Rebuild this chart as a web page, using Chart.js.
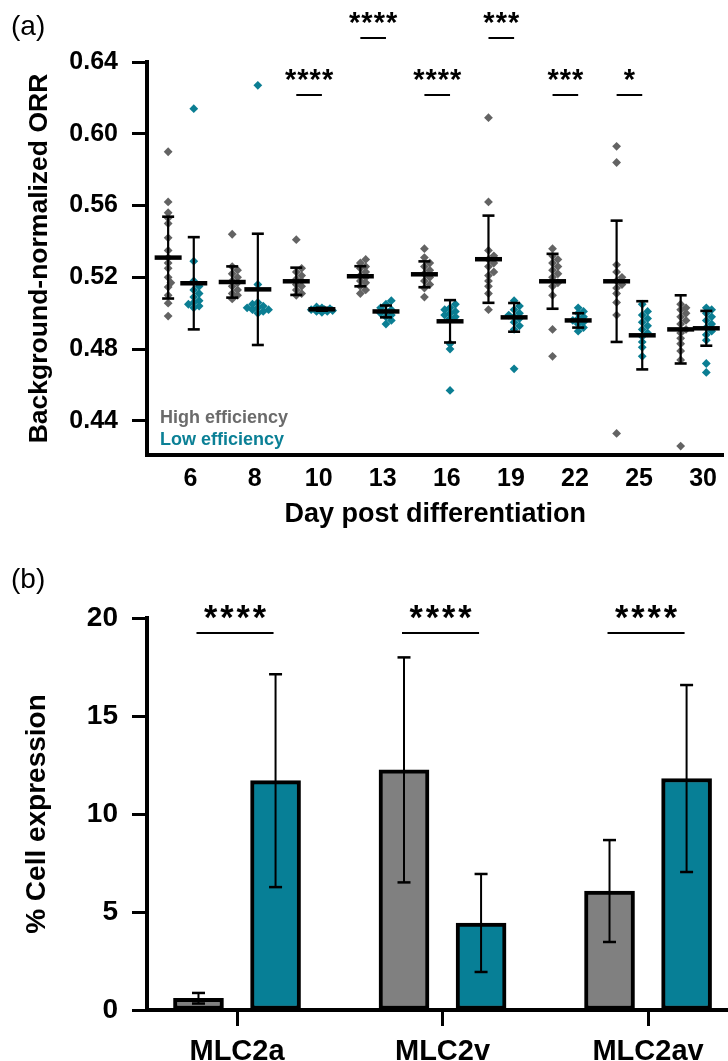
<!DOCTYPE html>
<html>
<head>
<meta charset="utf-8">
<script src="https://cdn.jsdelivr.net/npm/chart.js@4.4.1/dist/chart.umd.min.js"></script>
<style>
  html, body { margin: 0; padding: 0; background: #fff; }
  #wrap { position: relative; width: 728px; height: 1061px; overflow: hidden; }
  canvas { position: absolute; left: 0; }
  #orr { top: 0; }
  #expr { top: 540px; }
</style>
</head>
<body>
<div id="wrap">
  <canvas id="orr" width="728" height="540"></canvas>
  <canvas id="expr" width="728" height="521"></canvas>
</div>
<script>
// ---------- Panel (a): optical redox ratio per day ----------
const days = ['6', '8', '10', '13', '16', '19', '22', '25', '30'];
const orrTicks = [0.44, 0.48, 0.52, 0.56, 0.60, 0.64];

const highOrr = [
  [0.590, 0.562, 0.556, 0.553, 0.550, 0.542, 0.535, 0.531, 0.528, 0.525, 0.520, 0.517, 0.5146, 0.510, 0.5056, 0.4984],
  [0.544, 0.526, 0.524, 0.522, 0.520, 0.518, 0.517, 0.515, 0.513, 0.511, 0.510, 0.508],
  [0.541, 0.525, 0.523, 0.521, 0.519, 0.518, 0.516, 0.515, 0.513, 0.511, 0.510],
  [0.530, 0.528, 0.526, 0.525, 0.523, 0.521, 0.520, 0.518, 0.517, 0.515, 0.513, 0.511],
  [0.536, 0.531, 0.528, 0.526, 0.524, 0.522, 0.520, 0.518, 0.516, 0.514, 0.509],
  [0.609, 0.562, 0.535, 0.532, 0.530, 0.528, 0.526, 0.523, 0.521, 0.518, 0.515, 0.511, 0.502],
  [0.536, 0.532, 0.530, 0.528, 0.526, 0.524, 0.522, 0.520, 0.517, 0.515, 0.510, 0.491, 0.476],
  [0.593, 0.584, 0.527, 0.523, 0.520, 0.518, 0.516, 0.514, 0.511, 0.506, 0.499, 0.433],
  [0.505, 0.503, 0.502, 0.500, 0.498, 0.496, 0.494, 0.491, 0.489, 0.486, 0.483, 0.479, 0.474, 0.426]
];
const lowOrr = [
  [0.614, 0.529, 0.518, 0.515, 0.513, 0.511, 0.509, 0.507, 0.506, 0.505, 0.504, 0.503],
  [0.627, 0.516, 0.506, 0.505, 0.504, 0.503, 0.503, 0.502, 0.502, 0.501, 0.500],
  [0.5035, 0.503, 0.5025, 0.502, 0.502, 0.5015, 0.501, 0.5005, 0.501, 0.502],
  [0.507, 0.505, 0.503, 0.502, 0.501, 0.500, 0.499, 0.498, 0.496, 0.494],
  [0.505, 0.503, 0.502, 0.501, 0.500, 0.499, 0.498, 0.497, 0.483, 0.480, 0.457],
  [0.507, 0.504, 0.502, 0.500, 0.499, 0.498, 0.497, 0.495, 0.493, 0.491, 0.469],
  [0.503, 0.501, 0.500, 0.498, 0.497, 0.496, 0.495, 0.494, 0.492, 0.490],
  [0.505, 0.501, 0.499, 0.497, 0.495, 0.493, 0.491, 0.489, 0.487, 0.484, 0.481, 0.476],
  [0.503, 0.502, 0.500, 0.498, 0.496, 0.494, 0.492, 0.490, 0.488, 0.485, 0.472, 0.467]
];
const highMean = [0.531, 0.5174, 0.5178, 0.5206, 0.5217, 0.5301, 0.5178, 0.5178, 0.491];
const highSD   = [0.0228, 0.0087, 0.0076, 0.0056, 0.0072, 0.0243, 0.0153, 0.0338, 0.019];
const lowMean  = [0.5167, 0.5133, 0.5022, 0.501, 0.4955, 0.4977, 0.496, 0.4877, 0.4916];
const lowSD    = [0.0257, 0.031, 0.0008, 0.0033, 0.0118, 0.008, 0.004, 0.019, 0.0097];
const orrSig   = ['', '', '****', '****', '****', '***', '***', '*', ''];
const orrSigRow = [0, 0, 1, 2, 1, 2, 1, 1, 0];   // 1 = lower bracket row, 2 = upper row

// ---------- Panel (b): marker expression ----------
const markers = ['MLC2a', 'MLC2v', 'MLC2av'];
const exprTicks = [0, 5, 10, 15, 20];
const highExpr   = [0.6, 12.25, 6.07];
const highExprSD = [0.27, 5.74, 2.6];
const lowExpr    = [11.7, 4.44, 11.81];
const lowExprSD  = [5.43, 2.5, 4.77];
const exprSig    = ['****', '****', '****'];

// colours
const GREY_PT = '#636363';
const TEAL_PT = '#0b7e93';
const GREY_BAR = '#808080';
const TEAL_BAR = '#077f96';

// group offsets on the day axis
const HIGH_OFF = 0.33, LOW_OFF = 0.73, LABEL_OFF = 0.68;
// approximate pixel scale of panel (a), used for point spreading
const PX_X = 64.56, PX_Y = 71.75 / 0.04;

// spread overlapping points sideways (compact beeswarm, limited width)
function swarm(values, center) {
  const placed = [];
  const out = new Array(values.length);
  const order = values.map((v, i) => i).sort((a, b) => values[a] - values[b]);
  const cands = [0];
  for (let k = 1; k <= 4; k++) { cands.push(k * 2.7, -k * 2.7); }
  for (const i of order) {
    const py = values[i] * PX_Y;
    let best = 0, bestD = -1;
    for (const c of cands) {
      const d = placed.length ? Math.min(...placed.map(p => Math.hypot(p.x - c, p.y - py))) : Infinity;
      if (d >= 5) { best = c; bestD = d; break; }
      if (d > bestD) { bestD = d; best = c; }
    }
    placed.push({ x: best, y: py });
    out[i] = { x: center + best / PX_X, y: values[i] };
  }
  return out;
}

const highPts = [], lowPts = [];
days.forEach((d, i) => {
  highPts.push(...swarm(highOrr[i], i + HIGH_OFF));
  lowPts.push(...swarm(lowOrr[i], i + LOW_OFF));
});

function starText(ctx, text, cx, cy, glyphH, pitch) {
  ctx.save();
  ctx.font = 'bold 100px "Liberation Sans", Arial, sans-serif';
  const m = ctx.measureText('*');
  const h = m.actualBoundingBoxAscent + m.actualBoundingBoxDescent;
  const size = glyphH * 100 / h;
  ctx.font = 'bold ' + size.toFixed(2) + 'px "Liberation Sans", Arial, sans-serif';
  const m2 = ctx.measureText('*');
  const base = cy + (m2.actualBoundingBoxAscent - m2.actualBoundingBoxDescent) / 2;
  ctx.fillStyle = '#000';
  ctx.textAlign = 'center';
  ctx.textBaseline = 'alphabetic';
  const n = text.length;
  for (let k = 0; k < n; k++) {
    ctx.fillText('*', cx + (k - (n - 1) / 2) * pitch, base);
  }
  ctx.restore();
}

function hLine(ctx, x1, x2, y, w) {
  ctx.beginPath(); ctx.lineWidth = w; ctx.moveTo(x1, y); ctx.lineTo(x2, y); ctx.stroke();
}
function vLine(ctx, x, y1, y2, w) {
  ctx.beginPath(); ctx.lineWidth = w; ctx.moveTo(x, y1); ctx.lineTo(x, y2); ctx.stroke();
}

// mean ± SD markers, significance brackets, legend text and panel letter
const orrDecor = {
  id: 'orrDecor',
  afterDatasetsDraw(chart) {
    const { ctx, scales: { x, y } } = chart;
    ctx.save();
    ctx.strokeStyle = '#000';
    ctx.lineCap = 'butt';
    const groups = [[highMean, highSD, HIGH_OFF], [lowMean, lowSD, LOW_OFF]];
    days.forEach((d, i) => {
      groups.forEach(([mean, sd, off]) => {
        const cx = x.getPixelForValue(i + off);
        const yt = y.getPixelForValue(mean[i] + sd[i]);
        const yb = y.getPixelForValue(mean[i] - sd[i]);
        const ym = y.getPixelForValue(mean[i]);
        vLine(ctx, cx, yt, yb, 2.2);
        hLine(ctx, cx - 6, cx + 6, yt, 2.6);
        hLine(ctx, cx - 6, cx + 6, yb, 2.6);
        hLine(ctx, cx - 13.5, cx + 13.5, ym, 4.5);
      });
    });
    ctx.restore();
  },
  afterDraw(chart) {
    const { ctx, scales: { x, y } } = chart;
    ctx.save();
    ctx.strokeStyle = '#000';
    const rowY = { 1: 95, 2: 38 };
    orrSig.forEach((s, i) => {
      if (!s) return;
      const ly = rowY[orrSigRow[i]];
      const x1 = x.getPixelForValue(i + HIGH_OFF);
      const x2 = x.getPixelForValue(i + LOW_OFF);
      hLine(ctx, x1, x2, ly, 2);
      starText(ctx, s, (x1 + x2) / 2, ly - 20, 11, 12.3);
    });
    ctx.font = 'bold 18px "Liberation Sans", Arial, sans-serif';
    ctx.textAlign = 'left';
    ctx.textBaseline = 'alphabetic';
    ctx.fillStyle = '#6b6b6b';
    ctx.fillText('High efficiency', 160, 423);
    ctx.fillStyle = '#0b8096';
    ctx.fillText('Low efficiency', 160, 445);
    ctx.fillStyle = '#000';
    ctx.font = '28px "Liberation Sans", Arial, sans-serif';
    ctx.textBaseline = 'middle';
    ctx.fillText('(a)', 11, 27);
    ctx.restore();
  }
};

const tickFontA = { family: '"Liberation Sans", Arial, sans-serif', size: 25, weight: 'bold' };

new Chart(document.getElementById('orr'), {
  type: 'scatter',
  data: {
    datasets: [
      { label: 'High efficiency', data: highPts, backgroundColor: GREY_PT, pointStyle: 'rectRot',
        pointRadius: 4.4, pointHoverRadius: 4.4, pointBorderWidth: 0, borderWidth: 0 },
      { label: 'Low efficiency', data: lowPts, backgroundColor: TEAL_PT, pointStyle: 'rectRot',
        pointRadius: 4.4, pointHoverRadius: 4.4, pointBorderWidth: 0, borderWidth: 0 }
    ]
  },
  options: {
    responsive: false, animation: false, events: [],
    layout: { padding: { top: 62, left: 0, right: 0, bottom: 0 } },
    plugins: { legend: { display: false }, tooltip: { enabled: false } },
    scales: {
      x: {
        type: 'linear', min: 0, max: 9,
        afterFit: s => { s.height = 85; },
        afterBuildTicks: s => { s.ticks = days.map((d, i) => ({ value: i + LABEL_OFF })); },
        ticks: { callback: (v, idx) => days[idx], font: tickFontA, color: '#000', padding: 9,
                 autoSkip: false, maxRotation: 0 },
        grid: { display: false, drawTicks: false },
        border: { display: true, width: 4, color: '#000' },
        title: { display: true, text: 'Day post differentiation', color: '#000',
                 font: { family: '"Liberation Sans", Arial, sans-serif', size: 27, weight: 'bold' },
                 padding: { top: 0, bottom: 9 } }
      },
      y: {
        min: 0.421, max: 0.64,
        afterFit: s => { s.width = 147; },
        afterBuildTicks: s => { s.ticks = orrTicks.map(v => ({ value: v })); },
        ticks: { callback: v => v.toFixed(2), font: tickFontA, color: '#000', padding: 14 },
        grid: { display: true, drawOnChartArea: false, drawTicks: true, tickLength: 15, tickWidth: 3, tickColor: '#000' },
        border: { display: true, width: 4, color: '#000' },
        title: { display: true, text: 'Background-normalized ORR', color: '#000',
                 font: { family: '"Liberation Sans", Arial, sans-serif', size: 26.5, weight: 'bold' },
                 padding: { top: 24, bottom: 0 } }
      }
    }
  },
  plugins: [orrDecor]
});

// ---------- Panel (b) ----------
const BAR_OFF = 0.1875;

const exprDecor = {
  id: 'exprDecor',
  afterDatasetsDraw(chart) {
    const { ctx, scales: { x, y } } = chart;
    ctx.save();
    ctx.strokeStyle = '#000';
    const sets = [[highExpr, highExprSD], [lowExpr, lowExprSD]];
    sets.forEach(([mean, sd], d) => {
      const meta = chart.getDatasetMeta(d);
      meta.data.forEach((bar, i) => {
        const cx = bar.x;
        const yt = y.getPixelForValue(mean[i] + sd[i]);
        const yb = y.getPixelForValue(mean[i] - sd[i]);
        vLine(ctx, cx, yt, yb, 2);
        hLine(ctx, cx - 6.5, cx + 6.5, yt, 2.5);
        hLine(ctx, cx - 6.5, cx + 6.5, yb, 2.5);
      });
    });
    ctx.restore();
  },
  afterDraw(chart) {
    const { ctx, scales: { x, y } } = chart;
    ctx.save();
    ctx.strokeStyle = '#000';
    exprSig.forEach((s, i) => {
      const x1 = x.getPixelForValue(i - BAR_OFF);
      const x2 = x.getPixelForValue(i + BAR_OFF);
      const ly = 93;
      hLine(ctx, x1 - 2, x2 - 2, ly, 2);
      starText(ctx, s, (x1 + x2) / 2 - 2, ly - 21, 13, 16.3);
    });
    ctx.fillStyle = '#000';
    ctx.font = '28px "Liberation Sans", Arial, sans-serif';
    ctx.textAlign = 'left';
    ctx.textBaseline = 'middle';
    ctx.fillText('(b)', 11, 40);
    ctx.restore();
  }
};

const tickFontB = { family: '"Liberation Sans", Arial, sans-serif', size: 28, weight: 'bold' };

new Chart(document.getElementById('expr'), {
  type: 'bar',
  data: {
    datasets: [
      { label: 'High efficiency', data: markers.map((m, i) => ({ x: i - BAR_OFF, y: highExpr[i] })),
        backgroundColor: GREY_BAR, borderColor: '#000', borderWidth: 4, borderSkipped: false,
        barThickness: 50, grouped: false },
      { label: 'Low efficiency', data: markers.map((m, i) => ({ x: i + BAR_OFF, y: lowExpr[i] })),
        backgroundColor: TEAL_BAR, borderColor: '#000', borderWidth: 4, borderSkipped: false,
        barThickness: 50, grouped: false }
    ]
  },
  options: {
    responsive: false, animation: false, events: [],
    layout: { padding: { top: 78, left: 0, right: 0, bottom: 0 } },
    plugins: { legend: { display: false }, tooltip: { enabled: false } },
    scales: {
      x: {
        type: 'linear', min: -0.438, max: 2.389, offset: false,
        afterFit: s => { s.height = 51; },
        afterBuildTicks: s => { s.ticks = markers.map((m, i) => ({ value: i })); },
        ticks: { callback: (v, idx) => markers[idx], font: { ...tickFontB, size: 29 }, color: '#000',
                 padding: 9, autoSkip: false, maxRotation: 0 },
        grid: { display: true, offset: false, drawOnChartArea: false, drawTicks: true, tickLength: 16,
                tickWidth: 3, tickColor: '#000' },
        border: { display: true, width: 4, color: '#000' }
      },
      y: {
        min: 0, max: 20,
        afterFit: s => { s.width = 147; },
        afterBuildTicks: s => { s.ticks = exprTicks.map(v => ({ value: v })); },
        ticks: { callback: v => String(v), font: tickFontB, color: '#000', padding: 14 },
        grid: { display: true, drawOnChartArea: false, drawTicks: true, tickLength: 15, tickWidth: 3, tickColor: '#000' },
        border: { display: true, width: 4, color: '#000' },
        title: { display: true, text: '% Cell expression', color: '#000',
                 font: { family: '"Liberation Sans", Arial, sans-serif', size: 28, weight: 'bold' },
                 padding: { top: 20, bottom: 0 } }
      }
    }
  },
  plugins: [exprDecor]
});
</script>
</body>
</html>
